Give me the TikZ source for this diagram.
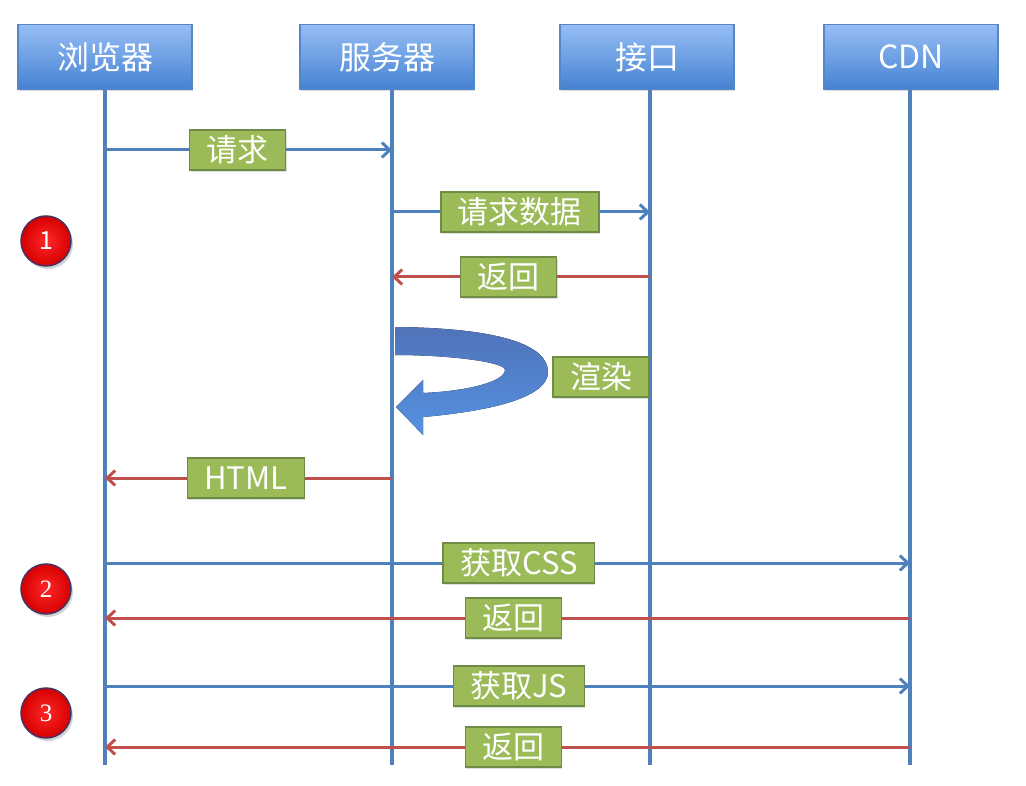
\documentclass[tikz,border=0pt]{standalone}
\usepackage{fontspec}
\setmainfont{Noto Sans CJK SC}
\newfontfamily\numserif{Liberation Serif}
\usepackage{tikz}
\usetikzlibrary{arrows.meta,shadows}

\definecolor{lineblue}{RGB}{79,129,189}
\definecolor{linered}{RGB}{192,80,77}
\definecolor{boxgreen}{RGB}{155,187,89}
\definecolor{greenrim}{RGB}{110,140,70}
\definecolor{headtop}{RGB}{150,190,245}
\definecolor{headbot}{RGB}{70,130,210}
\definecolor{headrim}{RGB}{85,135,200}

\begin{document}
\begin{tikzpicture}[x=1pt,y=-1pt,
		head_style/.style={rectangle,draw=headrim,line width=1.2pt,top color=headtop,bottom color=headbot,
			minimum width=174pt,minimum height=65pt,text=white,font=\fontsize{32}{34}\selectfont,
			drop shadow={opacity=0.25,shadow xshift=1pt,shadow yshift=-2pt}},
		label_style/.style={rectangle,draw=greenrim,line width=1.2pt,fill=boxgreen,text=white,
			minimum height=40pt,inner xsep=17pt,inner ysep=2pt,font=\fontsize{31}{32}\selectfont,
			drop shadow={opacity=0.25,shadow xshift=1pt,shadow yshift=-2pt}},
		mark_style/.style={circle,draw={rgb,255:red,70;green,50;blue,100},line width=1.5pt,
			inner color={rgb,255:red,255;green,40;blue,40},outer color={rgb,255:red,215;green,0;blue,0},
			minimum size=50pt,text=white,font=\fontsize{25}{26}\selectfont,
			drop shadow={opacity=0.35,shadow xshift=2pt,shadow yshift=-3pt}},
		life_style/.style={draw=lineblue,line width=4pt},
		req_style/.style={draw=lineblue,line width=3pt,-{Straight Barb[length=8pt,width=15pt,line width=3pt]}},
		ret_style/.style={draw=linered,line width=3pt,-{Straight Barb[length=8pt,width=15pt,line width=3pt]}}]

		\useasboundingbox (0,0) rectangle (1026,786);

		% lifelines
		\foreach \n/\x/\hx/\t in {brw/105/105/浏览器, srv/392/387/服务器, api/650/647/接口, cdn/910/911/CDN}{
			\coordinate (\n_end) at (\x,765);
			\draw[life_style] (\x,90) -- (\n_end);
			\node[head_style] (\n) at (\hx,57) {\t};
		}

		% step marks
		\node[mark_style] (k1) at (46,241) {1};
		\node[mark_style] (k2) at (46,589) {\numserif 2};
		\node[mark_style] (k3) at (46,713) {\numserif 3};

		% render
		\fill[top color={rgb,255:red,80;green,115;blue,185},bottom color={rgb,255:red,85;green,145;blue,225}]
			(395,327) .. controls (500,328) and (548,345) .. (548,372)
			.. controls (548,400) and (480,412) .. (423,417)
			-- (423,435) -- (396,407) -- (423,380) -- (423,393)
			.. controls (470,391) and (505,381) .. (505,370)
			.. controls (505,362) and (450,355) .. (395,355) -- cycle;
		\node[label_style] (r1) at (601,377) {渲染};

		% messages
		\draw[req_style] (brw_end |- 0,150) -- node[label_style,pos=.463] (m1) {请求} (srv_end |- 0,150);
		\draw[req_style] (srv_end |- 0,212) -- node[label_style,pos=.496] (m2) {请求数据} (api_end |- 0,212);
		\draw[ret_style] (api_end |- 0,277) -- node[label_style,pos=.547] (m3) {返回} (srv_end |- 0,277);
		\draw[ret_style] (srv_end |- 0,478) -- node[label_style,pos=.509] (m4) {HTML} (brw_end |- 0,478);
		\draw[req_style] (brw_end |- 0,563) -- node[label_style,pos=.514] (m5) {获取CSS} (cdn_end |- 0,563);
		\draw[ret_style] (cdn_end |- 0,618) -- node[label_style,pos=.493] (m6) {返回} (brw_end |- 0,618);
		\draw[req_style] (brw_end |- 0,686) -- node[label_style,pos=.514] (m7) {获取JS} (cdn_end |- 0,686);
		\draw[ret_style] (cdn_end |- 0,747) -- node[label_style,pos=.493] (m8) {返回} (brw_end |- 0,747);

\end{tikzpicture}
\end{document}
